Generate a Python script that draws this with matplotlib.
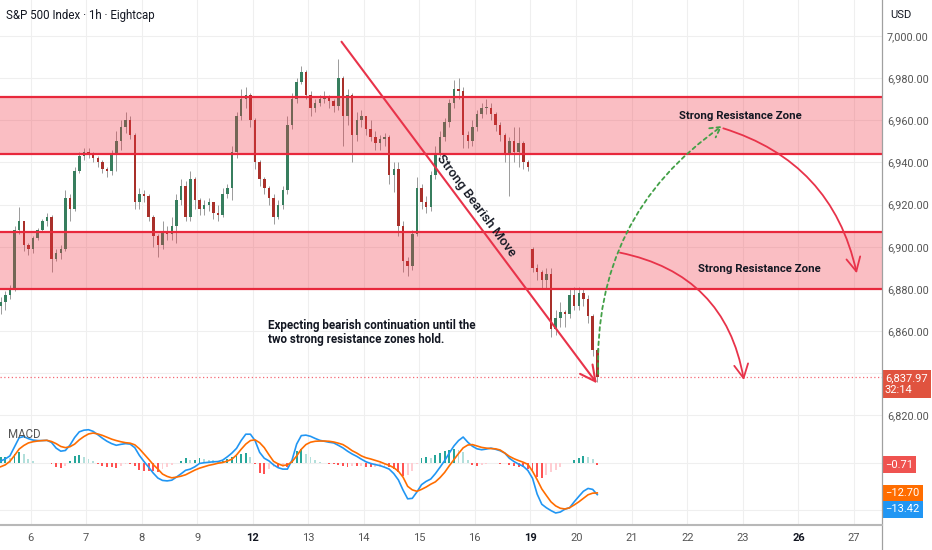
import numpy as np
import matplotlib
matplotlib.use('Agg')
import matplotlib.pyplot as plt
from matplotlib.patches import FancyArrowPatch
from matplotlib.lines import Line2D

plt.rcParams['font.family'] = ['Roboto', 'DejaVu Sans']

# ---- values (2h bars, S&P 500 Index, Eightcap) ----
day_labels = ['6', '7', '8', '9', '12', '13', '14', '15', '16', '19', '20',
              '21', '22', '23', '26', '27']
week_starts = ['12', '19', '26']
session_bars = [12, 12, 12, 12, 12, 12, 12, 12, 12, 10, 12, 12, 12, 12, 12, 12]
bars_before_first_label = 7

first_open = 6872
gap_open = 6899          # the 19th opens with a gap down
gap_bar = 115

closes = [6874, 6877, 6880, 6908, 6912, 6901, 6899,
          6904, 6908, 6912, 6914, 6894, 6897, 6899, 6923, 6918, 6936, 6943, 6945,
          6944, 6942, 6940, 6937, 6936, 6944, 6950, 6957, 6960, 6953, 6921, 6925,
          6924, 6914, 6905, 6901, 6907, 6906, 6910, 6922, 6929, 6914, 6932, 6922,
          6918, 6920, 6921, 6916, 6915, 6925, 6928, 6945, 6962, 6970, 6972, 6960,
          6940, 6932, 6928, 6923, 6914, 6920, 6927, 6958, 6970, 6978, 6983, 6972,
          6966, 6968, 6970, 6971, 6969, 6967, 6980, 6962, 6972, 6953, 6960, 6962,
          6956, 6952, 6949, 6951, 6952, 6934, 6937, 6910, 6893, 6891, 6906, 6928,
          6921, 6919, 6934, 6944, 6952, 6959, 6968, 6975, 6974, 6953, 6950, 6957,
          6963, 6966, 6966, 6963, 6958, 6953, 6944, 6950, 6945, 6949, 6940, 6938,
          6890, 6888, 6884, 6887, 6861, 6866, 6869, 6868, 6877, 6872,
          6878, 6875, 6867, 6851, 6837.97]
highs = [6876, 6879, 6882, 6910, 6919, 6912, 6902,
         6905, 6909, 6913, 6916, 6915, 6899, 6901, 6927, 6925, 6938, 6945, 6947,
         6947, 6945, 6943, 6941, 6938, 6946, 6955, 6960, 6964, 6962, 6954, 6928,
         6927, 6925, 6915, 6906, 6912, 6910, 6914, 6925, 6932, 6931, 6936, 6933,
         6923, 6922, 6923, 6921, 6920, 6928, 6930, 6948, 6964, 6975, 6976, 6973,
         6961, 6941, 6933, 6929, 6925, 6922, 6929, 6962, 6973, 6980, 6986, 6984,
         6974, 6970, 6972, 6974, 6972, 6970, 6989, 6981, 6975, 6973, 6964, 6965,
         6962, 6960, 6955, 6953, 6954, 6953, 6940, 6940, 6912, 6895, 6908, 6933,
         6930, 6924, 6936, 6948, 6955, 6961, 6970, 6979, 6980, 6976, 6955, 6960,
         6965, 6968, 6970, 6968, 6964, 6959, 6954, 6952, 6957, 6957, 6950, 6941,
         6900, 6892, 6889, 6890, 6890, 6870, 6874, 6870, 6880, 6881,
         6881, 6880, 6877, 6868, 6852]
lows = [6868, 6870, 6875, 6879, 6906, 6898, 6896,
        6897, 6903, 6907, 6910, 6888, 6893, 6894, 6898, 6912, 6917, 6935, 6941,
        6942, 6940, 6938, 6935, 6933, 6934, 6936, 6946, 6954, 6951, 6918, 6918,
        6921, 6912, 6900, 6895, 6899, 6903, 6903, 6902, 6920, 6912, 6912, 6918,
        6915, 6915, 6917, 6913, 6912, 6914, 6923, 6922, 6942, 6960, 6966, 6957,
        6937, 6929, 6925, 6920, 6911, 6913, 6918, 6925, 6956, 6968, 6977, 6970,
        6962, 6964, 6967, 6968, 6966, 6964, 6965, 6948, 6958, 6940, 6950, 6957,
        6953, 6950, 6946, 6946, 6948, 6930, 6926, 6905, 6888, 6886, 6889, 6905,
        6918, 6916, 6917, 6932, 6943, 6950, 6957, 6966, 6970, 6947, 6947, 6948,
        6955, 6961, 6963, 6960, 6955, 6950, 6940, 6924, 6940, 6938, 6937, 6936,
        6888, 6884, 6880, 6880, 6857, 6858, 6862, 6862, 6866, 6870,
        6870, 6872, 6864, 6848, 6836]

macd = [0.8, 1.7, 3.0, 6.8, 10.7, 11.2, 10.3,
        9.7, 9.5, 9.5, 9.6, 8.7, 6.3, 5.0, 5.3, 7.6, 10.8, 13.2, 13.9,
        14.1, 13.4, 12.0, 10.5, 9.2, 8.2, 7.5, 7.9, 8.2, 8.0, 6.5, 3.2,
        0.6, -1.8, -4.3, -6.4, -7.4, -7.6, -7.3, -6.0, -4.6, -3.1, -2.6, -1.6,
        -0.2, 0.1, 0.3, 0.5, 0.6, 1.2, 2.6, 4.2, 6.2, 9.5, 12.2, 12.2,
        9.5, 4.5, 2.0, 0.9, -0.8, -2.0, -2.6, -2.6, 1.2, 8.0, 11.6, 11.8,
        11.3, 10.4, 9.6, 9.2, 8.8, 8.5, 7.5, 6.4, 5.0, 3.8, 2.8, 1.6,
        0.5, -0.2, -0.7, -1.1, -1.8, -2.6, -4.5, -7.2, -11.5, -15.2, -15.0, -12.3,
        -9.2, -7.8, -6.8, -4.5, -1.8, 1.0, 4.2, 7.2, 9.5, 11.0, 8.8, 7.1,
        6.0, 5.6, 5.9, 6.3, 5.8, 5.2, 4.2, 2.0, 0.6, -0.5, -1.4, -3.2,
        -6.5, -13.2, -17.5, -19.0, -20.2, -21.2, -20.8, -19.6, -19.0, -16.5,
        -14.2, -12.0, -10.8, -11.2, -13.416]
signal = [-1.6, -0.8, 0.7, 3.2, 5.9, 7.4, 8.5,
          9.0, 9.3, 9.5, 9.6, 9.1, 8.2, 7.0, 6.5, 6.9, 8.0, 9.8, 11.2,
          12.3, 12.7, 12.3, 11.7, 10.9, 10.1, 9.5, 9.0, 8.6, 8.4, 7.7, 6.0,
          3.8, 1.6, -0.7, -2.6, -4.7, -5.7, -6.3, -6.0, -5.6, -5.0, -4.0, -3.0,
          -2.2, -1.6, -1.0, -0.6, -0.1, 0.2, 0.8, 1.6, 3.4, 5.8, 8.0, 9.5,
          9.8, 8.6, 6.5, 3.5, 0.7, -0.4, -1.1, -0.8, 0.5, 3.0, 5.8, 7.8,
          8.8, 9.2, 9.3, 9.3, 9.2, 8.9, 8.4, 7.8, 6.6, 5.2, 4.2, 3.0,
          2.2, 1.7, 1.1, 0.5, -0.3, -1.0, -2.0, -3.5, -6.0, -9.9, -11.4, -12.0,
          -11.2, -10.2, -9.0, -8.0, -6.2, -4.0, -1.2, 1.4, 4.0, 6.4, 7.6, 7.8,
          7.2, 6.6, 6.3, 6.1, 6.0, 5.5, 4.2, 2.8, 1.8, 1.0, 0.3, -0.6,
          -3.5, -7.1, -11.0, -13.8, -16.5, -18.2, -19.2, -19.5, -19.0, -17.8,
          -16.5, -15.0, -13.5, -12.8, -12.704]

zone_upper = (6944, 6971)
zone_lower = (6880, 6907)
last_price = 6837.97
countdown = '32:14'

# drawings on the chart, in (bar, price)
bearish_move = [(67.2, 6997.3), (122.4, 6835.2)]
bearish_label = (96.4, 6919.3)
arrow_top = [(149.75, 6956.2), (178.6, 6887.4)]
arrow_low = [(127.4, 6897.2), (154.2, 6836.7)]
green_path = [(122.7, 6839.6), (149.5, 6957.3)]
zone_label_top = (153.5, 6962.0)
zone_label_low = (157.6, 6889.3)
note_pos = (51.3, 6859.3)

GREEN = '#377E5E'
RED = '#A9302A'
LINE_RED = '#E8283C'
GRID = '#EFEFEF'
TXT = '#131722'
AXIS_TXT = '#555555'

c = np.array(closes, dtype=float)
h = np.array(highs, dtype=float)
l = np.array(lows, dtype=float)
o = np.r_[first_open, c[:-1]]
o[gap_bar] = gap_open
x = np.arange(len(c)) - bars_before_first_label + 0.5
day_starts = np.r_[0, np.cumsum(session_bars)[:-1]]

m = np.array(macd)
s = np.array(signal)
hist = m - s

fig = plt.figure(figsize=(9.32, 5.5), dpi=100)
ax = fig.add_axes([0, 125 / 550, 882 / 932, 425 / 550])
axm = fig.add_axes([0, 25 / 550, 882 / 932, 100 / 550], sharex=ax)

for a in (ax, axm):
    for sp in a.spines.values():
        sp.set_visible(False)
    a.set_xticks(day_starts)
    a.grid(True, color=GRID, lw=0.8, zorder=0)
    a.set_axisbelow(True)

ax.set_xlim(-6.64, 184.06)
ax.set_ylim(6815.4, 7017.1)
axm.set_ylim(-26.3, 16.1)

# price scale on the right (the 6,840 label sits under the last price tag)
price_ticks = np.arange(6820, 7001, 20)
ax.set_yticks(price_ticks)
ax.yaxis.tick_right()
ax.set_yticklabels(['' if abs(v - last_price) < 8 else f'{v:,.2f}' for v in price_ticks])
ax.tick_params(axis='y', length=0, pad=3.5, labelsize=7.8, labelcolor=AXIS_TXT)
ax.tick_params(axis='x', length=0, labelbottom=False)

axm.set_yticks([-20, 0])
axm.tick_params(axis='y', length=0, labelright=False, labelleft=False)
axm.set_xticklabels(day_labels)
axm.tick_params(axis='x', length=0, pad=5.5, labelsize=8, labelcolor=AXIS_TXT)
for t in axm.get_xticklabels():
    if t.get_text() in week_starts:
        t.set_fontweight('bold')
        t.set_color(TXT)

# candles
up = c >= o
ax.vlines(x, l, h, color='#9a9a9a', lw=0.7, zorder=2)
ax.bar(x, np.maximum(np.abs(c - o), 0.4), bottom=np.minimum(o, c), width=0.55,
       color=np.where(up, GREEN, RED), lw=0, zorder=2.2)

# resistance zones
for lo, hi in (zone_upper, zone_lower):
    ax.axhspan(lo, hi, facecolor='#F23645', alpha=0.32, lw=0, zorder=3)
    ax.axhline(lo, color=LINE_RED, lw=1.6, zorder=4)
    ax.axhline(hi, color=LINE_RED, lw=1.6, zorder=4)

ax.axhline(last_price, color='#F23645', lw=0.9, ls=(0, (1, 2)), alpha=0.75, zorder=1.5)

# drawings
head = '->,head_length=0.55,head_width=0.28'
ax.add_patch(FancyArrowPatch(bearish_move[0], bearish_move[1], arrowstyle=head,
                             mutation_scale=20, color='#E8334A', lw=1.5,
                             shrinkA=0, shrinkB=0, zorder=5))
ax.add_patch(FancyArrowPatch(arrow_top[0], arrow_top[1], connectionstyle='arc3,rad=-0.29',
                             arrowstyle=head, mutation_scale=18, color='#E8334A', lw=1.3,
                             shrinkA=0, shrinkB=0, zorder=5))
ax.add_patch(FancyArrowPatch(arrow_low[0], arrow_low[1], connectionstyle='arc3,rad=-0.34',
                             arrowstyle=head, mutation_scale=18, color='#E8334A', lw=1.3,
                             shrinkA=0, shrinkB=0, zorder=5))
ax.add_patch(FancyArrowPatch(green_path[0], green_path[1], connectionstyle='arc3,rad=-0.27',
                             arrowstyle='->,head_length=0.45,head_width=0.25',
                             mutation_scale=16, color='#43A047', lw=1.3,
                             ls=(0, (2, 2)), shrinkA=0, shrinkB=0, zorder=5))

ax.text(*bearish_label, 'Strong Bearish Move', rotation=-53.3, rotation_mode='anchor',
        ha='center', va='center', fontsize=9.5, fontweight='medium', color=TXT, zorder=6)
ax.text(*zone_label_top, 'Strong Resistance Zone', ha='center', va='center',
        fontsize=8.2, fontweight='bold', color=TXT, zorder=6)
ax.text(*zone_label_low, 'Strong Resistance Zone', ha='center', va='center',
        fontsize=8.2, fontweight='bold', color=TXT, zorder=6)
ax.text(*note_pos, 'Expecting bearish continuation until the\ntwo strong resistance zones hold.',
        ha='left', va='center', fontsize=8.4, fontweight='bold', color=TXT,
        linespacing=1.1, zorder=6)

ax.text(6 / 882, 1 - 15 / 425, 'S&P 500 Index \u00b7 1h \u00b7 Eightcap', transform=ax.transAxes,
        ha='left', va='center', fontsize=8.3, color=TXT)
fig.text(890 / 932, 1 - 15 / 550, 'USD', ha='left', va='center', fontsize=8, color=TXT)

# last price tag
ax.text(1 + 3 / 882, last_price - 3.1, f'{last_price:,.2f}\n{countdown}',
        transform=ax.get_yaxis_transform(), ha='left', va='center', fontsize=8,
        color='white', linespacing=1.15, zorder=10,
        bbox=dict(boxstyle='square,pad=0.3', facecolor='#E0533F', edgecolor='none'))

# MACD pane
hist_col = []
for i, v in enumerate(hist):
    prev = hist[i - 1] if i else v
    if v >= 0:
        hist_col.append('#26A69A' if v >= prev else '#B2DFDB')
    else:
        hist_col.append('#FF5252' if v <= prev else '#FFCDD2')
axm.bar(x, hist, width=0.4, color=hist_col, lw=0, zorder=2)
axm.plot(x, m, color='#2196F3', lw=1.2, zorder=3)
axm.plot(x, s, color='#FF6D00', lw=1.2, zorder=3)
axm.text(8 / 882, 0.91, 'MACD', transform=axm.transAxes, ha='left', va='center',
         fontsize=8.3, color=AXIS_TXT)

label_nudge = 6.3
for val, ypos, col in ((hist[-1], hist[-1], '#EF5350'),
                       (s[-1], s[-1], '#FF6D00'),
                       (m[-1], m[-1] - label_nudge, '#2196F3')):
    axm.text(1 + 3 / 882, ypos, f'{val:.2f}'.replace('-', '\u2212'),
             transform=axm.get_yaxis_transform(), ha='left', va='center', fontsize=8,
             color='white', zorder=10,
             bbox=dict(boxstyle='square,pad=0.3', facecolor=col, edgecolor='none'))

# frame lines of the price / time scales
fig.add_artist(Line2D([882 / 932, 882 / 932], [0, 1], transform=fig.transFigure,
                      color='#a0a0a0', lw=0.9))
fig.add_artist(Line2D([0, 882 / 932], [25 / 550, 25 / 550], transform=fig.transFigure,
                      color='#b8b8b8', lw=1.5))

fig.savefig('out.png', dpi=100)
